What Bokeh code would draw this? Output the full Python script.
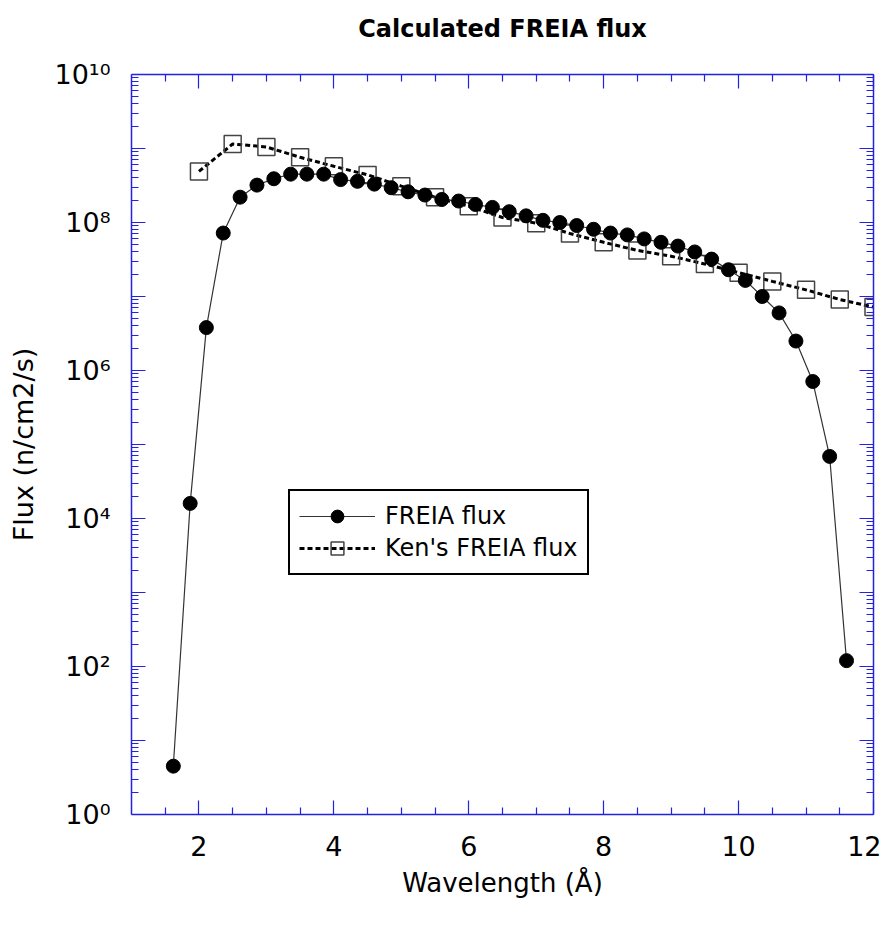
from bokeh.plotting import figure
from bokeh.models import FixedTicker, LinearAxis, LogAxis, CustomJSTickFormatter
from bokeh.embed import file_html
from bokeh.resources import INLINE

# ---- data ----
freia_wavelength = [1.62, 1.87, 2.11, 2.36, 2.61, 2.86, 3.11, 3.36, 3.60, 3.85,
                    4.10, 4.35, 4.60, 4.85, 5.10, 5.35, 5.60, 5.85, 6.10, 6.35,
                    6.60, 6.85, 7.10, 7.35, 7.60, 7.85, 8.10, 8.35, 8.60, 8.85,
                    9.10, 9.35, 9.60, 9.85, 10.10, 10.35, 10.60, 10.85, 11.10, 11.35, 11.60]
freia_flux = [4.5, 1.6e4, 3.8e6, 7.2e7, 2.2e8, 3.2e8, 3.9e8, 4.5e8, 4.5e8, 4.5e8,
              3.8e8, 3.6e8, 3.3e8, 2.95e8, 2.6e8, 2.35e8, 2.05e8, 1.95e8, 1.75e8, 1.6e8,
              1.4e8, 1.23e8, 1.07e8, 1.0e8, 9.1e7, 8.1e7, 7.2e7, 6.8e7, 6.0e7, 5.4e7,
              4.8e7, 4.0e7, 3.2e7, 2.3e7, 1.65e7, 1.0e7, 6.0e6, 2.5e6, 7.1e5, 6.9e4, 1.2e2]

ken_wavelength = [2.0, 2.5, 3.0, 3.5, 4.0, 4.5, 5.0, 5.5, 6.0, 6.5, 7.0,
                  7.5, 8.0, 8.5, 9.0, 9.5, 10.0, 10.5, 11.0, 11.5, 12.0]
ken_flux = [4.9e8, 1.15e9, 1.05e9, 7.6e8, 5.75e8, 4.4e8, 3.1e8, 2.2e8, 1.66e8, 1.17e8, 9.8e7,
            7.1e7, 5.4e7, 4.2e7, 3.5e7, 2.75e7, 2.1e7, 1.6e7, 1.23e7, 9.1e6, 7.2e6]

x_major_ticks = [2, 4, 6, 8, 10, 12]
x_minor_ticks = [1.5, 2.5, 3, 3.5, 4.5, 5, 5.5, 6.5, 7, 7.5, 8.5, 9, 9.5, 10.5, 11, 11.5]
y_major_ticks = [10**k for k in range(0, 11)]
y_minor_ticks = [m * 10**k for k in range(0, 10) for m in range(2, 10)]
y_tick_labels = {1: "10\u2070", 10: "", 100: "10\u00b2", 1000: "", 10**4: "10\u2074",
                 10**5: "", 10**6: "10\u2076", 10**7: "", 10**8: "10\u2078",
                 10**9: "", 10**10: "10\u00b9\u2070"}
title_text = "Calculated FREIA flux"

FONT = "DejaVu Sans"
AXIS_BLUE = "#2222e0"

p = figure(output_backend="svg", toolbar_location=None,
           x_range=(1, 12), y_range=(1, 1e10), y_axis_type="log",
           frame_width=742, frame_height=740,
           min_border_left=131, min_border_right=8,
           min_border_top=74, min_border_bottom=100)
p.outline_line_color = None
p.grid.visible = False
p.background_fill_color = "white"

xt = FixedTicker(ticks=x_major_ticks, minor_ticks=x_minor_ticks)
yt = FixedTicker(ticks=y_major_ticks, minor_ticks=y_minor_ticks)


def style_axis(ax):
    ax.axis_line_color = AXIS_BLUE
    ax.axis_line_width = 1.5
    ax.major_tick_line_color = AXIS_BLUE
    ax.minor_tick_line_color = AXIS_BLUE
    ax.major_tick_line_width = 1.2
    ax.minor_tick_line_width = 1.2
    ax.major_tick_in = 14
    ax.major_tick_out = 0
    ax.minor_tick_in = 7
    ax.minor_tick_out = 0
    ax.major_label_text_font = FONT
    ax.major_label_text_color = "black"
    ax.axis_label_text_font = FONT
    ax.axis_label_text_font_style = "normal"
    ax.axis_label_text_color = "black"


xa = p.xaxis[0]
xa.ticker = xt
style_axis(xa)
xa.major_label_text_font_size = "27px"
xa.major_label_standoff = 21
xa.axis_label = "Wavelength (\u00c5)"
xa.axis_label_text_font_size = "26px"
xa.axis_label_standoff = 9

ya = p.yaxis[0]
ya.ticker = yt
style_axis(ya)
ya.major_label_overrides = y_tick_labels
ya.major_label_text_font_size = "27px"
ya.major_label_standoff = 21
ya.axis_label = "Flux (n/cm2/s)"
ya.axis_label_text_font_size = "27px"
ya.axis_label_standoff = 12

blank = CustomJSTickFormatter(code="return ''")
# top axis mirrors the x ticks and carries the chart title
top = LinearAxis(ticker=xt, formatter=blank)
style_axis(top)
top.major_label_text_font_size = "1px"
top.major_label_standoff = 5
top.axis_label = title_text
top.axis_label_text_font_size = "24px"
top.axis_label_text_font_style = "bold"
top.axis_label_standoff = 32
p.add_layout(top, "above")
right = LogAxis(ticker=yt, formatter=blank)
style_axis(right)
right.major_label_text_font_size = "1px"
p.add_layout(right, "right")

# Ken's FREIA flux: thick dashed line with open squares
p.line(ken_wavelength, ken_flux, line_color="black", line_width=3,
       line_dash="5 3", legend_label="Ken's FREIA flux")
p.scatter(ken_wavelength, ken_flux, marker="square", size=17,
          fill_alpha=0, line_color="#444444", line_width=1.5,
          legend_label="Ken's FREIA flux")

# FREIA flux: thin solid line with filled circles
p.line(freia_wavelength, freia_flux, line_color="#333333", line_width=1.2,
       legend_label="FREIA flux")
p.scatter(freia_wavelength, freia_flux, marker="circle", size=14,
          fill_color="black", line_color="black", legend_label="FREIA flux")

lg = p.legend[0]
lg.items = [lg.items[1], lg.items[0]]
lg.location = (157, 239)
lg.margin = 0
lg.padding = 9
lg.spacing = 0
lg.glyph_width = 76
lg.glyph_height = 32
lg.label_height = 32
lg.label_standoff = 10
lg.label_text_font = FONT
lg.label_text_font_size = "24px"
lg.label_text_color = "black"
lg.border_line_color = "black"
lg.border_line_width = 2
lg.border_line_alpha = 1
lg.background_fill_color = "white"
lg.background_fill_alpha = 1

open("out.html", "w").write(file_html(p, INLINE))
